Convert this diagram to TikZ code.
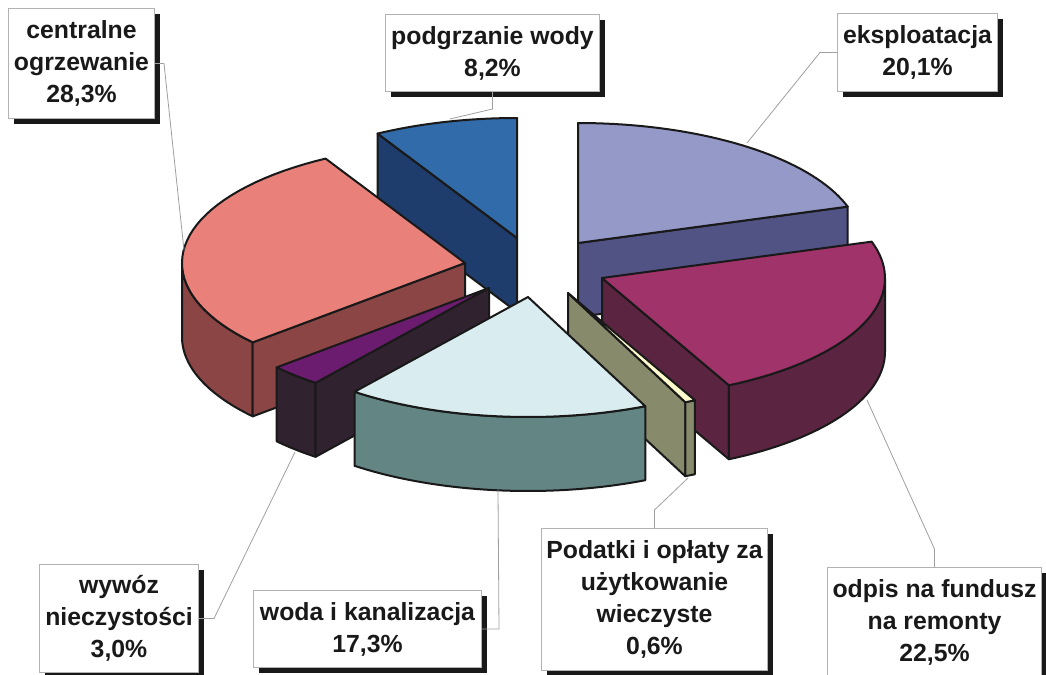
\documentclass[tikz,border=0pt]{standalone}
\usepackage{fontspec}
\setmainfont{Liberation Sans}
\usetikzlibrary{shadows}
\definecolor{eksT}{HTML}{9599C8}
\definecolor{eksS}{HTML}{525385}
\definecolor{odpT}{HTML}{A0336A}
\definecolor{odpS}{HTML}{5B2542}
\definecolor{podT}{HTML}{FFFACC}
\definecolor{podS}{HTML}{888A6C}
\definecolor{wodT}{HTML}{D9EDF0}
\definecolor{wodS}{HTML}{638584}
\definecolor{wywT}{HTML}{6C1C6E}
\definecolor{wywS}{HTML}{30222F}
\definecolor{cenT}{HTML}{E9817A}
\definecolor{cenS}{HTML}{8B4545}
\definecolor{pgwT}{HTML}{316BAA}
\definecolor{pgwS}{HTML}{1E3C6C}
\newcommand{\ptop}[5]{\filldraw[slice,fill=#5] (#1,#2) -- plot[domain=#3:#4,samples=40,variable=\t] ({#1+283*cos(\t)},{#2+120*sin(\t)}) -- cycle;}
\newcommand{\pout}[5]{\filldraw[slice,fill=#5] plot[domain=#3:#4,samples=40,variable=\t] ({#1+283*cos(\t)},{#2+120*sin(\t)}) -- plot[domain=#4:#3,samples=40,variable=\t] ({#1+283*cos(\t)},{#2+74+120*sin(\t)}) -- cycle;}
\newcommand{\prad}[4]{\filldraw[slice,fill=#4] (#1,#2) -- ({#1+283*cos(#3)},{#2+120*sin(#3)}) -- ++(0,74) -- (#1,{#2+74}) -- cycle;}
\begin{document}
\begin{tikzpicture}[x=0.5pt,y=-0.5pt,
  slice/.style={draw=black!90,line width=1pt,line join=round},
  lbl/.style={draw=gray!60,line width=0.5pt,fill=white,
    general shadow={fill=black!90,shadow xshift=2.5pt,shadow yshift=-2.5pt},
    align=center,inner sep=0pt,anchor=north west,
    font=\fontsize{12.4}{16}\selectfont\bfseries,text=black!90},
  leader/.style={draw=gray!75,line width=0.4pt}]
\clip (0,0) rectangle (1046,675);
% eksploatacja
\prad{578}{243}{342.36}{eksS}
\ptop{578}{243}{270}{342.36}{eksT}
% podgrzanie wody
\prad{517}{238}{240.48}{pgwS}
\ptop{517}{238}{240.48}{270}{pgwT}
% centralne ogrzewanie
\pout{465}{263}{138.6}{180}{cenS}
\prad{465}{263}{138.6}{cenS}
\ptop{465}{263}{138.6}{240.48}{cenT}
% wywoz nieczystosci
\pout{489}{288}{127.8}{138.6}{wywS}
\prad{489}{288}{127.8}{wywS}
\ptop{489}{288}{127.8}{138.6}{wywT}
% odpis na fundusz
\prad{602}{278}{63.36}{odpS}
\pout{602}{278}{360}{423.36}{odpS}
\ptop{602}{278}{342.36}{423.36}{odpT}
% podatki
\prad{568}{293}{65.52}{podS}
\pout{568}{293}{63.36}{65.52}{podS}
\ptop{568}{293}{63.36}{65.52}{podT}
% woda i kanalizacja
\pout{528}{297}{65.52}{127.8}{wodS}
\ptop{528}{297}{65.52}{127.8}{wodT}
% anchor points on slices
\coordinate (cpt) at (184,250);
\coordinate (ppt) at (450,119);
\coordinate (ept) at (747,143);
\coordinate (opt) at (867,400);
\coordinate (tpt) at (688,478);
\coordinate (wpt) at (498,490);
\coordinate (ypt) at (295,452);
% labels
\node[lbl,minimum width=73pt,minimum height=55pt] (cbox) at (8,8) {centralne\\ogrzewanie\\28,3\%};
\node[lbl,minimum width=107pt,minimum height=38.5pt] (pbox) at (385,14) {podgrzanie wody\\8,2\%};
\node[lbl,minimum width=80pt,minimum height=39pt] (ebox) at (837,13) {eksploatacja\\20,1\%};
\node[lbl,minimum width=79.5pt,minimum height=54pt] (ybox) at (39,564) {wywóz\\nieczystości\\3,0\%};
\node[lbl,minimum width=114pt,minimum height=38.5pt] (wbox) at (253,590) {woda i kanalizacja\\17,3\%};
\node[lbl,minimum width=113pt,minimum height=71pt] (tbox) at (541,528) {Podatki i opłaty za\\użytkowanie\\wieczyste\\0,6\%};
\node[lbl,minimum width=107pt,minimum height=55pt] (obox) at (827,567) {odpis na fundusz\\na remonty\\22,5\%};
% leader lines
\draw[leader] (cbox.east) -- ++(9,0) -- (cpt);
\draw[leader] (pbox.south) -- ++(0,17) -- (ppt);
\draw[leader] (ebox.west) -- ++(-17,0) -- (ept);
\draw[leader] (obox.north) -- ++(0,-18) -- (opt);
\draw[leader] (tbox.north) -- ++(0,-18) -- (tpt);
\draw[leader] (wbox.east) -- ++(17,0) -- (wpt);
\draw[leader] (ybox.east) -- ++(15,0) -- (ypt);
\end{tikzpicture}
\end{document}
